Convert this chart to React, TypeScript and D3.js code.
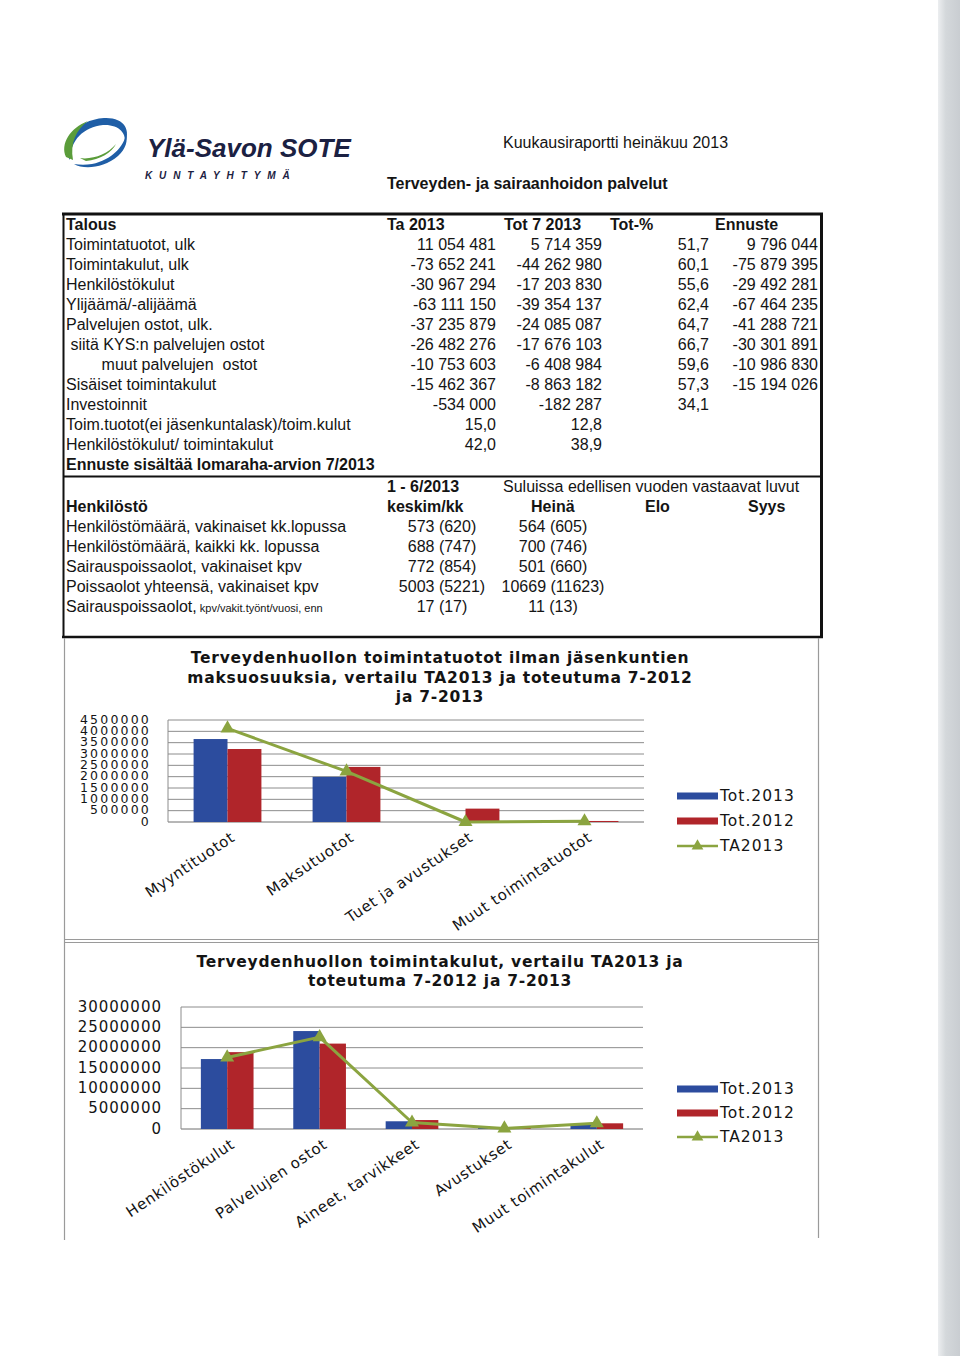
import React from 'react';
import * as d3 from 'd3';

// ---------- Data ----------
const talousHeader = ['Talous', 'Ta 2013', 'Tot 7 2013', 'Tot-%', 'Ennuste'];
const talousLabels = [
  'Toimintatuotot, ulk',
  'Toimintakulut, ulk',
  'Henkilöstökulut',
  'Ylijäämä/-alijäämä',
  'Palvelujen ostot, ulk.',
  ' siitä KYS:n palvelujen ostot',
  '        muut palvelujen  ostot',
  'Sisäiset toimintakulut',
  'Investoinnit',
  'Toim.tuotot(ei jäsenkuntalask)/toim.kulut',
  'Henkilöstökulut/ toimintakulut',
];
const ta2013Values = ['11 054 481', '-73 652 241', '-30 967 294', '-63 111 150', '-37 235 879', '-26 482 276', '-10 753 603', '-15 462 367', '-534 000', '15,0', '42,0'];
const tot7Values = ['5 714 359', '-44 262 980', '-17 203 830', '-39 354 137', '-24 085 087', '-17 676 103', '-6 408 984', '-8 863 182', '-182 287', '12,8', '38,9'];
const totPctValues = ['51,7', '60,1', '55,6', '62,4', '64,7', '66,7', '59,6', '57,3', '34,1', '', ''];
const ennusteValues = ['9 796 044', '-75 879 395', '-29 492 281', '-67 464 235', '-41 288 721', '-30 301 891', '-10 986 830', '-15 194 026', '', '', ''];
const talousNote = 'Ennuste sisältää lomaraha-arvion 7/2013';

const henkLabels = [
  'Henkilöstömäärä, vakinaiset kk.lopussa',
  'Henkilöstömäärä, kaikki kk. lopussa',
  'Sairauspoissaolot, vakinaiset kpv',
  'Poissaolot yhteensä, vakinaiset kpv',
  'Sairauspoissaolot,',
];
const henkLastSuffix = ' kpv/vakit.työnt/vuosi, enn';
const keskimValues = ['573 (620)', '688 (747)', '772 (854)', '5003 (5221)', '17 (17)'];
const heinaValues = ['564 (605)', '700 (746)', '501 (660)', '10669 (11623)', '11 (13)'];

const chart1Title = ['Terveydenhuollon toimintatuotot ilman jäsenkuntien', 'maksuosuuksia, vertailu TA2013 ja toteutuma 7-2012', 'ja 7-2013'];
const chart1Categories = ['Myyntituotot', 'Maksutuotot', 'Tuet ja avustukset', 'Muut toimintatuotot'];
const chart1Tot2013 = [3660000, 1990000, 0, 50000];
const chart1Tot2012 = [3220000, 2430000, 590000, 45000];
const chart1TA2013 = [4130000, 2230000, 0, 30000];

const chart2Title = ['Terveydenhuollon toimintakulut, vertailu TA2013 ja', 'toteutuma 7-2012 ja 7-2013'];
const chart2Categories = ['Henkilöstökulut', 'Palvelujen ostot', 'Aineet, tarvikkeet', 'Avustukset', 'Muut toimintakulut'];
const chart2Tot2013 = [17200000, 24085000, 1900000, 300000, 1200000];
const chart2Tot2012 = [18900000, 21000000, 2200000, 300000, 1400000];
const chart2TA2013 = [17600000, 22600000, 1600000, 150000, 1400000];

const seriesNames = ['Tot.2013', 'Tot.2012', 'TA2013'];

// ---------- Styles ----------
const BLUE = '#2c4c9e';
const RED = '#b0252a';
const GREEN = '#8ba440';
const TXT = '#141414';
const ARIAL = '"Liberation Sans", Arial, sans-serif';
const VERD = '"DejaVu Sans", Verdana, sans-serif';

type ChartProps = {
  cats: string[];
  a: number[];
  b: number[];
  line: number[];
  yMax: number;
  yStep: number;
  left: number;
  right: number;
  top: number;
  bottom: number;
  tickX: number;
  tickFont: number;
  tickSpacing: number;
  title: string[];
  titleY: number[];
  legendY: number[];
};

function ComboChart(p: ChartProps) {
  const x = d3.scaleBand<string>().domain(p.cats).range([p.left, p.right]);
  const bw = x.bandwidth();
  const inner = d3.scaleBand<string>().domain(['a', 'b']).range([bw * 0.215, bw * 0.785]);
  const y = d3.scaleLinear().domain([0, p.yMax]).range([p.bottom, p.top]);
  const ticks = d3.range(0, p.yMax + 1, p.yStep);
  const cx = (i: number) => (x(p.cats[i]) as number) + bw / 2;
  const lineGen = d3.line<number>().x((_, i) => cx(i)).y((d) => y(d));
  const tri = d3.symbol().type(d3.symbolTriangle).size(85)() as string;
  const triSmall = d3.symbol().type(d3.symbolTriangle).size(60)() as string;
  return (
    <g>
      {p.title.map((t, i) => (
        <text key={i} x={440} y={p.titleY[i]} textAnchor="middle" dominantBaseline="middle"
          fontFamily={VERD} fontWeight="bold" fontSize={15.5} letterSpacing={0.75} fill={TXT}>{t}</text>
      ))}
      {ticks.map((t) => (
        <g key={t}>
          <line x1={p.left} x2={p.right} y1={y(t)} y2={y(t)} stroke={t === 0 ? '#6f6f6f' : '#8c8c8c'} strokeWidth={1} />
          <text x={p.tickX} y={y(t)} textAnchor="end" dominantBaseline="middle" fontFamily={VERD}
            fontSize={p.tickFont} letterSpacing={p.tickSpacing} fill={TXT}>{String(t)}</text>
        </g>
      ))}
      <line x1={p.left} x2={p.left} y1={p.top} y2={p.bottom} stroke="#8c8c8c" strokeWidth={1} />
      {p.cats.map((c, i) => (
        <g key={c}>
          <rect x={(x(c) as number) + (inner('a') as number)} y={y(p.a[i])} width={inner.bandwidth()}
            height={p.bottom - y(p.a[i])} fill={BLUE} />
          <rect x={(x(c) as number) + (inner('b') as number)} y={y(p.b[i])} width={inner.bandwidth()}
            height={p.bottom - y(p.b[i])} fill={RED} />
        </g>
      ))}
      <path d={lineGen(p.line) as string} fill="none" stroke={GREEN} strokeWidth={3} strokeLinejoin="round" />
      {p.line.map((v, i) => (
        <path key={i} d={tri} transform={`translate(${cx(i)},${y(v)})`} fill={GREEN} />
      ))}
      {p.cats.map((c, i) => (
        <text key={c} transform={`translate(${cx(i) + 6},${p.bottom + 14}) rotate(-34)`} textAnchor="end"
          dominantBaseline="middle" fontFamily={VERD} fontSize={15} letterSpacing={0.7} fill={TXT}>{c}</text>
      ))}
      {/* legend */}
      <rect x={677} y={p.legendY[0] - 3.5} width={41} height={7} fill={BLUE} />
      <rect x={677} y={p.legendY[1] - 3.5} width={41} height={7} fill={RED} />
      <line x1={677} x2={718} y1={p.legendY[2]} y2={p.legendY[2]} stroke={GREEN} strokeWidth={2.5} />
      <path d={triSmall} transform={`translate(697.5,${p.legendY[2]})`} fill={GREEN} />
      {seriesNames.map((s, i) => (
        <text key={s} x={720} y={p.legendY[i]} dominantBaseline="middle" fontFamily={VERD} fontSize={15.5}
          letterSpacing={1} fill={TXT}>{s}</text>
      ))}
    </g>
  );
}

export default function App() {
  const rowH = 20;
  const talousTop = 224;
  const henkTop = 486;
  const fs = 16;
  const base = 5.7;
  return (
    <svg width={960} height={1356} viewBox="0 0 960 1356"
      style={{ position: 'absolute', left: 0, top: 0, display: 'block', background: '#ffffff' }}>
      <defs>
        <linearGradient id="edge" x1="0" x2="1" y1="0" y2="0">
          <stop offset="0" stopColor="#eceef0" />
          <stop offset="0.35" stopColor="#d4d8db" />
          <stop offset="1" stopColor="#c9cdd1" />
        </linearGradient>
      </defs>
      <rect x={0} y={0} width={960} height={1356} fill="#ffffff" />
      <rect x={938} y={0} width={22} height={1356} fill="url(#edge)" />

      {/* Logo */}
      <g>
        <path d="M70,160 C58,142 76,120 104,118 C124,117 132,130 124,145 C128,133 118,124 103,125 C84,127 70,140 70,160 Z" fill="#1f5ea6" />
        <path d="M66,157 C60,144 70,128 88,121 C76,130 70,143 73,160 Z" fill="#5a9c3a" />
        <path d="M74,164 C84,170 104,168 118,156 C126,149 128,140 126,134 C124,146 112,160 92,164 C86,165 80,165 74,164 Z" fill="#1f5ea6" />
        <path d="M80,158 C92,160 108,154 116,144 C112,152 100,160 86,161 Z" fill="#5a9c3a" />
        <text x={147} y={157} fontFamily={ARIAL} fontWeight="bold" fontStyle="italic" fontSize={26} fill="#1b2142">Ylä-Savon SOTE</text>
        <text x={145} y={179} fontFamily={ARIAL} fontWeight="bold" fontStyle="italic" fontSize={10} letterSpacing={6.9} fill="#1b2142">KUNTAYHTYMÄ</text>
      </g>
      <text x={503} y={148} fontFamily={ARIAL} fontSize={16} fill={TXT}>Kuukausiraportti heinäkuu 2013</text>
      <text x={387} y={188.5} fontFamily={ARIAL} fontWeight="bold" fontSize={16} fill={TXT}>Terveyden- ja sairaanhoidon palvelut</text>

      {/* Table borders */}
      <line x1={62} x2={823} y1={214} y2={214} stroke="#111" strokeWidth={3} />
      <line x1={63.5} x2={63.5} y1={213} y2={638} stroke="#111" strokeWidth={2} />
      <line x1={821.5} x2={821.5} y1={213} y2={638} stroke="#111" strokeWidth={3} />
      <line x1={63} x2={822} y1={476.5} y2={476.5} stroke="#111" strokeWidth={2} />
      <line x1={62} x2={823} y1={637} y2={637} stroke="#111" strokeWidth={2.5} />

      <g fontFamily={ARIAL} fontSize={fs} fill={TXT}>
        <text x={66} y={talousTop + base} fontWeight="bold">{talousHeader[0]}</text>
        <text x={387} y={talousTop + base} fontWeight="bold">{talousHeader[1]}</text>
        <text x={504} y={talousTop + base} fontWeight="bold">{talousHeader[2]}</text>
        <text x={610} y={talousTop + base} fontWeight="bold">{talousHeader[3]}</text>
        <text x={715} y={talousTop + base} fontWeight="bold">{talousHeader[4]}</text>
        {talousLabels.map((l, i) => {
          const yy = talousTop + rowH * (i + 1) + base;
          return (
            <g key={i}>
              <text x={66} y={yy} style={{ whiteSpace: 'pre' }}>{l}</text>
              <text x={496} y={yy} textAnchor="end">{ta2013Values[i]}</text>
              <text x={602} y={yy} textAnchor="end">{tot7Values[i]}</text>
              <text x={709} y={yy} textAnchor="end">{totPctValues[i]}</text>
              <text x={818} y={yy} textAnchor="end">{ennusteValues[i]}</text>
            </g>
          );
        })}
        <text x={66} y={talousTop + rowH * 12 + base} fontWeight="bold">{talousNote}</text>

        <text x={387} y={henkTop + base} fontWeight="bold">1 - 6/2013</text>
        <text x={503} y={henkTop + base}>Suluissa edellisen vuoden vastaavat luvut</text>
        <text x={66} y={henkTop + rowH + base} fontWeight="bold">Henkilöstö</text>
        <text x={387} y={henkTop + rowH + base} fontWeight="bold">keskim/kk</text>
        <text x={531} y={henkTop + rowH + base} fontWeight="bold">Heinä</text>
        <text x={645} y={henkTop + rowH + base} fontWeight="bold">Elo</text>
        <text x={748} y={henkTop + rowH + base} fontWeight="bold">Syys</text>
        {henkLabels.map((l, i) => {
          const yy = henkTop + rowH * (i + 2) + base;
          return (
            <g key={i}>
              <text x={66} y={yy}>
                {l}
                {i === henkLabels.length - 1 ? <tspan fontSize={11}>{henkLastSuffix}</tspan> : null}
              </text>
              <text x={442} y={yy} textAnchor="middle">{keskimValues[i]}</text>
              <text x={553} y={yy} textAnchor="middle">{heinaValues[i]}</text>
            </g>
          );
        })}
      </g>

      {/* Chart frames */}
      <g stroke="#9a9a9a" strokeWidth={1.2} fill="none">
        <line x1={64.5} x2={64.5} y1={638} y2={1240} />
        <line x1={818.5} x2={818.5} y1={638} y2={1238} />
        <line x1={64} x2={819} y1={939.5} y2={939.5} />
        <line x1={64} x2={819} y1={942.5} y2={942.5} />
      </g>

      <ComboChart cats={chart1Categories} a={chart1Tot2013} b={chart1Tot2012} line={chart1TA2013}
        yMax={4500000} yStep={500000} left={168} right={644} top={720} bottom={822} tickX={151}
        tickFont={12.5} tickSpacing={2.2}
        title={chart1Title} titleY={[658, 678, 697]} legendY={[796, 821, 846]} />
      <ComboChart cats={chart2Categories} a={chart2Tot2013} b={chart2Tot2012} line={chart2TA2013}
        yMax={30000000} yStep={5000000} left={181} right={643} top={1007} bottom={1129} tickX={162}
        tickFont={15} tickSpacing={1}
        title={chart2Title} titleY={[962, 981]} legendY={[1089, 1113, 1137]} />
    </svg>
  );
}
